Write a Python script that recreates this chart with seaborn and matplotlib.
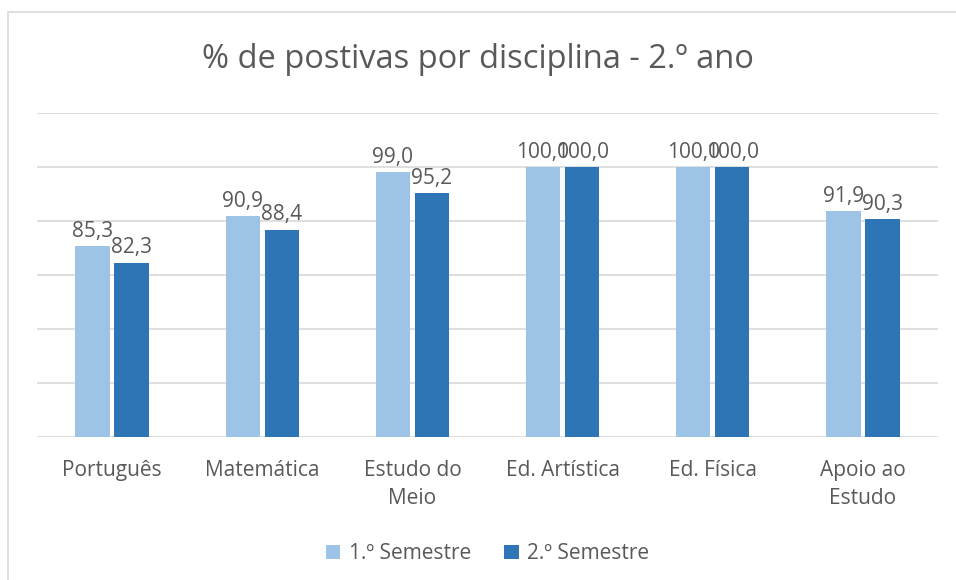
import matplotlib
matplotlib.use("Agg")
from matplotlib import pyplot as plt
from matplotlib.patches import Rectangle
import pandas as pd
import seaborn as sns

# % positives per subject, 2nd year
disciplinas = ["Português", "Matemática", "Estudo do\nMeio", "Ed. Artística",
               "Ed. Física", "Apoio ao\nEstudo"]
sem1 = [85.3, 90.9, 99.0, 100.0, 100.0, 91.9]
sem2 = [82.3, 88.4, 95.2, 100.0, 100.0, 90.3]
series = ["1.º Semestre", "2.º Semestre"]

df = pd.DataFrame({
    "disciplina": disciplinas * 2,
    "valor": sem1 + sem2,
    "semestre": [series[0]] * len(sem1) + [series[1]] * len(sem2),
})

sns.set_style("white")
plt.rcParams["font.family"] = ["Open Sans", "DejaVu Sans"]
grey = "#595959"

fig = plt.figure(figsize=(9.56, 5.8), dpi=100)
ax = fig.add_axes([37 / 956, 143 / 580, 901 / 956, 324 / 580])

sns.barplot(data=df, x="disciplina", y="valor", hue="semestre",
            palette=["#9DC3E6", "#2E75B6"], saturation=1, width=0.52, gap=0.12,
            linewidth=0, ax=ax, legend=True)

ax.set_ylim(50, 110)
ax.set_yticks(range(50, 111, 10))
ax.yaxis.grid(True, color="#D9D9D9", linewidth=1.2)
ax.set_axisbelow(True)
ax.tick_params(axis="y", left=False, labelleft=False)
ax.tick_params(axis="x", bottom=False, pad=13, labelsize=15, labelcolor=grey)
for lbl in ax.get_xticklabels():
    lbl.set_linespacing(1.45)
for s in ax.spines.values():
    s.set_visible(False)
ax.set_xlabel("")
ax.set_ylabel("")

for c in ax.containers:
    ax.bar_label(c, labels=[f"{v:.1f}".replace(".", ",") for v in c.datavalues],
                 padding=3, fontsize=15, color=grey)

ax.legend(loc="center", bbox_to_anchor=(0.5, -0.36), ncol=2,
          frameon=False, fontsize=15, labelcolor=grey, handlelength=0.7,
          handleheight=0.7, columnspacing=1.6, handletextpad=0.4)

fig.text(0.5, 1 - 60 / 580, "% de postivas por disciplina - 2.º ano",
         ha="center", va="center", fontsize=23.5, color=grey)

fig.patches.append(Rectangle((8 / 956, -0.01), 1.0, 1 - 12 / 580 + 0.01,
                             transform=fig.transFigure, fill=False,
                             edgecolor="#D9D9D9", linewidth=1.2))

fig.savefig("out.png", dpi=100)
